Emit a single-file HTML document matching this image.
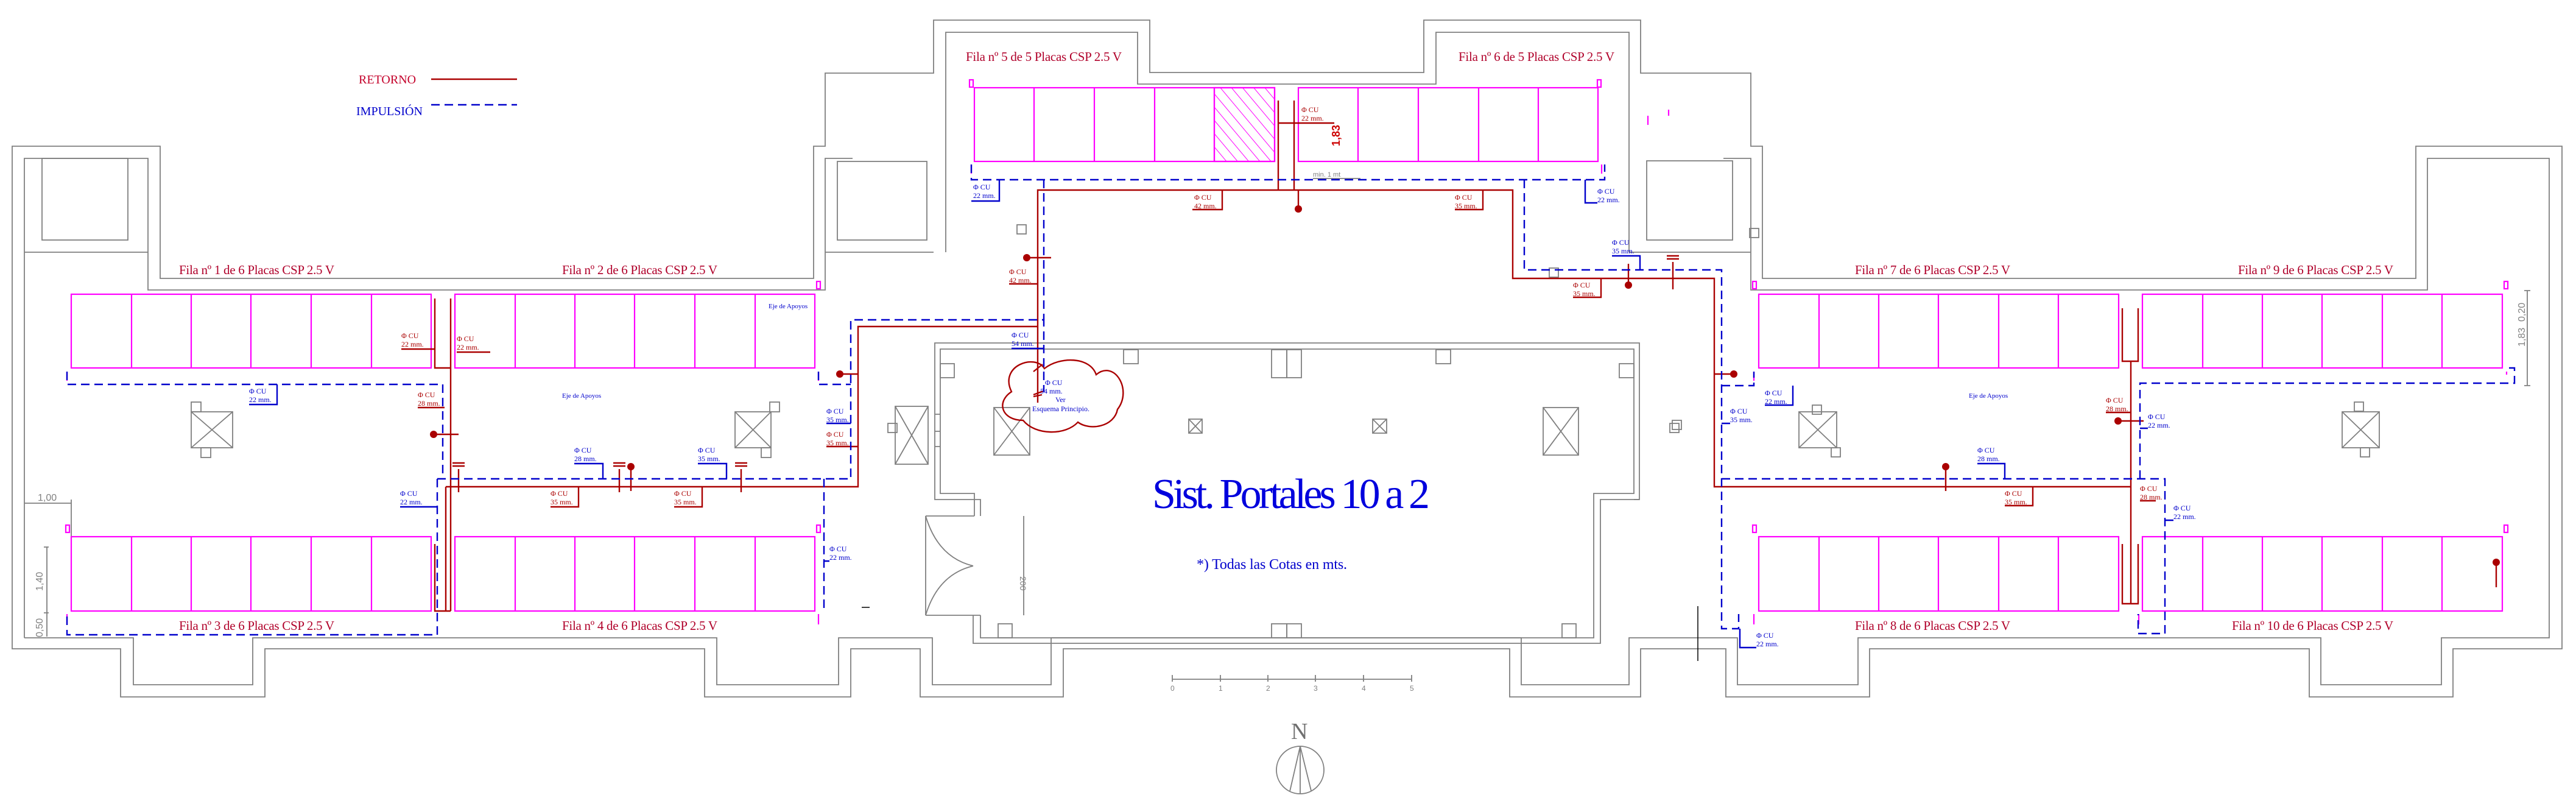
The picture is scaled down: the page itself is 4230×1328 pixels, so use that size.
<!DOCTYPE html>
<html><head><meta charset="utf-8"><style>
html,body{margin:0;padding:0;background:#fff}
svg{display:block}
</style></head><body>
<svg xmlns="http://www.w3.org/2000/svg" width="4230" height="1328" viewBox="0 0 4230 1328">
<defs>
<pattern id="hatch" patternUnits="userSpaceOnUse" width="14" height="14" patternTransform="rotate(-40)">
<line x1="0" y1="0" x2="0" y2="14" stroke="#ff00ff" stroke-width="2"/>
</pattern>
</defs>
<rect width="4230" height="1328" fill="#fff"/>

<!-- building outline -->
<g fill="none" stroke="#808080" stroke-width="1.8">
<path d="M20 1065 V240 H263 V457 H1336 V240 H1355 V120 H1533 V33 H1888 V119 H2338 V33 H2694 V120 H2875 V240 H2894 V457 H3967 V240 H4207 V1065 H4028 V1144 H3792 V1065 H3070 V1144 H2834 V1065 H2694 V1144 H2479 V1065 H1746 V1144 H1511 V1065 H1397 V1144 H1157 V1065 H435 V1144 H198 V1065 Z"/>
<path d="M40 1047 V260 H243 V476 H1355 V260 H1400"/>
<path d="M2830 260 H2875 V476 H3986 V260 H4186 V1047 H4009 V1124 H3811 V1047 H3051 V1124 H2853 V1047 H2675 V1124 H2498 V1047 H1726 V1124 H1531 V1047 H1377 V1124 H1177 V1047 H415 V1124 H219 V1047 H40"/>
<path d="M40 414 H243"/>
<rect x="69" y="260" width="141" height="134"/>
<path d="M1355 414 H1533"/>
<rect x="1375" y="265" width="147" height="129"/>
<path d="M1553 414 V53 H1868 V138 H2358 V53 H2675 V414"/>
<path d="M2675 414 H2875"/>
<rect x="2704" y="264" width="141" height="130"/>
<!-- central building -->
<path d="M1598 1010 V1056 H2628 V820 H2692 V563 H1535 V820 H1610 V847"/>
<path d="M1610 1010 V1047 H2617 V810 H2683 V573 H1544 V810 H1600 V847"/>
<path d="M1520 847 H1600 M1520 1010 H1610 M1520 847 V1010"/>
<path d="M1520 847 Q1540 915 1598 929 M1520 1010 Q1540 943 1598 929"/>
<path d="M1681 847 V1010"/>
<path d="M1535 680 H1544 M1535 708 H1544 M1535 733 H1544"/>
<path d="M2683 820 H2692"/>
<rect x="1845" y="574" width="24" height="23"/><rect x="2088" y="574" width="25" height="46"/><rect x="2113" y="574" width="24" height="46"/>
<rect x="2358" y="574" width="24" height="23"/><rect x="1544" y="597" width="23" height="23"/><rect x="2659" y="597" width="24" height="23"/>
<rect x="1639" y="1024" width="23" height="23"/><rect x="2088" y="1024" width="25" height="23"/><rect x="2113" y="1024" width="24" height="23"/><rect x="2565" y="1024" width="23" height="23"/>
<!-- fans -->
<rect x="314" y="676" width="68" height="59"/><path d="M314 676 L382 735 M382 676 L314 735"/>
<rect x="1207" y="676" width="59" height="59"/><path d="M1207 676 L1266 735 M1266 676 L1207 735"/>
<rect x="1470" y="667" width="54" height="95"/><path d="M1470 667 L1524 762 M1524 667 L1470 762"/>
<rect x="1632" y="669" width="59" height="78"/><path d="M1632 669 L1691 747 M1691 669 L1632 747"/>
<rect x="2534" y="669" width="58" height="78"/><path d="M2534 669 L2592 747 M2592 669 L2534 747"/>
<rect x="1952" y="688" width="22" height="23"/><path d="M1952 688 L1974 711 M1974 688 L1952 711"/>
<rect x="2254" y="688" width="23" height="23"/><path d="M2254 688 L2277 711 M2277 688 L2254 711"/>
<rect x="2954" y="676" width="62" height="59"/><path d="M2954 676 L3016 735 M3016 676 L2954 735"/>
<rect x="3846" y="676" width="61" height="59"/><path d="M3846 676 L3907 735 M3907 676 L3846 735"/>
<rect x="314" y="660" width="16" height="16"/><rect x="330" y="735" width="16" height="16"/>
<rect x="1264" y="660" width="16" height="16"/><rect x="1250" y="735" width="16" height="16"/>
<rect x="1458" y="695" width="15" height="15"/><rect x="1670" y="369" width="15" height="15"/>
<rect x="2742" y="695" width="15" height="15"/><rect x="2873" y="375" width="15" height="15"/>
<rect x="2544" y="440" width="15" height="15"/><rect x="2976" y="665" width="15" height="15"/>
<rect x="3007" y="735" width="15" height="15"/><rect x="3866" y="660" width="15" height="15"/><rect x="3876" y="735" width="15" height="15"/>
<rect x="2746" y="690" width="15" height="15"/>
<!-- dims -->
<path d="M40 826 H117 M117 820 V880 M77 898 V1045 M72 898 H80 M72 1006 H80 M4150 477 V633 M4145 477 H4155 M4145 633 H4155"/>
<path d="M1925 1115 H2318 M1925 1108 V1119 M2004 1108 V1119 M2082 1108 V1119 M2160 1108 V1119 M2239 1108 V1119 M2318 1108 V1119"/>
<circle cx="2135" cy="1264" r="39"/>
<path d="M2135 1225 V1303 M2135 1225 L2118 1299 M2135 1225 L2153 1298"/>
<path d="M2156 293 H2234"/>
</g>
<path d="M2788 995 V1085 M1415 997 H1428" stroke="#000" stroke-width="1.5"/>

<!-- panels -->
<g fill="none" stroke="#ff00ff" stroke-width="2.2">
<rect x="1994" y="144" width="99" height="121" fill="url(#hatch)"/>
<rect x="117" y="483" width="591" height="121"/><path d="M216 483V604M314 483V604M412 483V604M511 483V604M610 483V604"/>
<rect x="747" y="483" width="591" height="121"/><path d="M846 483V604M944 483V604M1042 483V604M1141 483V604M1240 483V604"/>
<rect x="117" y="881" width="591" height="122"/><path d="M216 881V1003M314 881V1003M412 881V1003M511 881V1003M610 881V1003"/>
<rect x="747" y="881" width="591" height="122"/><path d="M846 881V1003M944 881V1003M1042 881V1003M1141 881V1003M1240 881V1003"/>
<rect x="1600" y="144" width="493" height="121"/><path d="M1698 144V265M1797 144V265M1896 144V265M1994 144V265"/>
<rect x="2132" y="144" width="492" height="121"/><path d="M2230 144V265M2329 144V265M2428 144V265M2526 144V265"/>
<rect x="2888" y="483" width="591" height="121"/><path d="M2987 483V604M3085 483V604M3183 483V604M3282 483V604M3380 483V604"/>
<rect x="3518" y="483" width="591" height="121"/><path d="M3617 483V604M3715 483V604M3813 483V604M3912 483V604M4010 483V604"/>
<rect x="2888" y="881" width="591" height="122"/><path d="M2987 881V1003M3085 881V1003M3183 881V1003M3282 881V1003M3380 881V1003"/>
<rect x="3518" y="881" width="591" height="122"/><path d="M3617 881V1003M3715 881V1003M3813 881V1003M3912 881V1003M4010 881V1003"/>
<rect x="1592" y="131" width="6" height="12"/><rect x="2623" y="131" width="6" height="12"/>
<rect x="108" y="862" width="6" height="12"/><rect x="1341" y="462" width="6" height="12"/><rect x="1341" y="862" width="6" height="12"/>
<rect x="2878" y="462" width="6" height="12"/><rect x="2878" y="862" width="6" height="12"/>
<rect x="4112" y="462" width="6" height="12"/><rect x="4112" y="862" width="6" height="12"/>
<path d="M110 610 V625 M110 1008 V1025 M1344 610 V625 M1344 1008 V1025 M1595 270 V285 M2630 270 V285 M2880 610 V625 M2880 1008 V1025 M3512 1008 V1025 M4116 610 V615 M2740 180 V190 M2706 190 V205"/>
</g>

<!-- return (red) -->
<g fill="none" stroke="#aa0000" stroke-width="2.4">
<path d="M708 130 H849"/>
<path d="M714 490 V604 H740 M740 490 V1003 M732 799 V1003 M714 893 V1003 H740"/>
<path d="M732 799 H1409 V536 H1704 M1704 661 V312 H2484 V457 H2815 V799 H3499"/>
<path d="M2099 165 V312 M2125 165 V312 M2099 202 H2191 M2132 312 V340"/>
<path d="M3485 506 V593 H3511 V506 M3499 593 V991 M3485 893 V991 H3511 V893"/>
<path d="M712 713 H753 M753 770 V808 M743 760 H763 M743 765 H763 M1017 770 V808 M1007 760 H1027 M1007 765 H1027 M1036 766 V806 M1217 770 V808 M1207 760 H1227 M1207 765 H1227"/>
<path d="M1379 614 H1409 M1686 423 H1726 M2674 468 V433 M2747 430 V475 M2737 420 H2757 M2737 425 H2757 M2847 614 H2814 M3195 766 V806 M3478 691 H3520 M4099 923 V964"/>
<path d="M659 573 H714 M750 578 H805 M686 669 H730 M904 832 H950 V799 M1107 832 H1153 V799 M1357 733 H1409 M1958 344 H2007 V312 M2389 344 H2435 V312 M2583 488 H2629 V457 M1657 466 H1704 M3292 830 H3338 V799 M3458 677 H3499 M3514 822 H3540"/>
<path d="M1697 610 L1712 598 M1697 648 L1713 642 M1711 648 L1697 651"/>
<path d="M1661 643 C1640 600 1700 580 1715 605 C1740 585 1790 585 1800 615 C1830 590 1860 640 1835 672 C1830 700 1790 708 1770 693 C1750 715 1700 715 1680 690 C1645 690 1635 660 1661 643 Z"/>
</g>
<g fill="#aa0000">
<circle cx="712" cy="713" r="6"/><circle cx="1036" cy="766" r="6"/><circle cx="1379" cy="614" r="6"/>
<circle cx="1686" cy="423" r="6"/><circle cx="2132" cy="343" r="6"/><circle cx="2674" cy="468" r="6"/>
<circle cx="2847" cy="614" r="6"/><circle cx="3195" cy="766" r="6"/><circle cx="3478" cy="691" r="6"/><circle cx="4099" cy="923" r="6"/>
</g>

<!-- supply (blue dashed) -->
<g fill="none" stroke="#0000cc" stroke-width="2.4" stroke-dasharray="14 8">
<path d="M708 172 H849"/>
<path d="M110 610 V631 H727 V786"/>
<path d="M718 786 V1042 H110 V1008"/>
<path d="M718 786 H1397 V525 H1714 V643"/>
<path d="M1353 786 V1000 M1344 610 V631 H1397"/>
<path d="M1595 270 V295 H2635 V270 M1714 295 V525"/>
<path d="M2503 295 V443 H2827 V1032 H2855 V1008 M2827 633 H2880 V610"/>
<path d="M2827 786 H3555 V1040 H3511 V1008 M3514 786 V629 H4129 V604 H4116"/>
</g>
<g fill="none" stroke="#0000cc" stroke-width="2.4">
<path d="M409 664 H455 V631 M657 832 H718 M943 761 H990 V786 M1146 761 H1193 V786 M1357 695 H1397 M1362 921 H1353 M1595 330 H1641 V295 M2623 333 H2603 V295 M2647 420 H2693 V443 M1661 572 H1714"/>
<path d="M2898 665 H2944 V633 M2841 695 H2827 M3247 761 H3292 V786 M3527 703 H3514 M3569 854 H3555 M2884 1063 H2857 V1032"/>
</g>

<!-- text -->
<g font-family="'Liberation Serif', serif">
<text x="589" y="137" font-size="20" fill="#c4002a">RETORNO</text>
<text x="585" y="189" font-size="20" fill="#0000cc">IMPULSIÓN</text>
<g font-size="21" fill="#b0002a">
<text x="294" y="450" textLength="255">Fila nº 1 de 6 Placas CSP 2.5 V</text>
<text x="923" y="450" textLength="255">Fila nº 2 de 6 Placas CSP 2.5 V</text>
<text x="294" y="1034" textLength="255">Fila nº 3 de 6 Placas CSP 2.5 V</text>
<text x="923" y="1034" textLength="255">Fila nº 4 de 6 Placas CSP 2.5 V</text>
<text x="1586" y="100" textLength="256">Fila nº 5 de 5 Placas CSP 2.5 V</text>
<text x="2395" y="100" textLength="256">Fila nº 6 de 5 Placas CSP 2.5 V</text>
<text x="3046" y="450" textLength="255">Fila nº 7 de 6 Placas CSP 2.5 V</text>
<text x="3675" y="450" textLength="255">Fila nº 9 de 6 Placas CSP 2.5 V</text>
<text x="3046" y="1034" textLength="255">Fila nº 8 de 6 Placas CSP 2.5 V</text>
<text x="3665" y="1034" textLength="265">Fila nº 10 de 6 Placas CSP 2.5 V</text>
</g>
<text x="1892" y="834" font-size="70" fill="#0000dd" textLength="456">Sist. Portales 10 a 2</text>
<text x="1965" y="934" font-size="24" fill="#0000cc" textLength="247">*)  Todas las Cotas en mts.</text>
<g font-size="11" fill="#0000cc">
<text x="1262" y="506">Eje de Apoyos</text><text x="923" y="653">Eje de Apoyos</text><text x="3233" y="653">Eje de Apoyos</text>
</g>
<g font-size="12" fill="#aa0000">
<text x="659" y="555">Φ CU</text><text x="659" y="569">22 mm.</text>
<text x="750" y="560">Φ CU</text><text x="750" y="574">22 mm.</text>
<text x="686" y="652">Φ CU</text><text x="686" y="666">28 mm.</text>
<text x="904" y="814">Φ CU</text><text x="904" y="828">35 mm.</text>
<text x="1107" y="814">Φ CU</text><text x="1107" y="828">35 mm.</text>
<text x="1357" y="717">Φ CU</text><text x="1357" y="731">35 mm.</text>
<text x="1961" y="328">Φ CU</text><text x="1961" y="342">42 mm.</text>
<text x="2389" y="328">Φ CU</text><text x="2389" y="342">35 mm.</text>
<text x="2137" y="184">Φ CU</text><text x="2137" y="198">22 mm.</text>
<text x="2583" y="472">Φ CU</text><text x="2583" y="486">35 mm.</text>
<text x="1657" y="450">Φ CU</text><text x="1657" y="464">42 mm.</text>
<text x="3292" y="814">Φ CU</text><text x="3292" y="828">35 mm.</text>
<text x="3458" y="661">Φ CU</text><text x="3458" y="675">28 mm.</text>
<text x="3514" y="806">Φ CU</text><text x="3514" y="820">28 mm.</text>
</g>
<g font-size="12" fill="#0000cc">
<text x="409" y="646">Φ CU</text><text x="409" y="660">22 mm.</text>
<text x="657" y="814">Φ CU</text><text x="657" y="828">22 mm.</text>
<text x="943" y="743">Φ CU</text><text x="943" y="757">28 mm.</text>
<text x="1146" y="743">Φ CU</text><text x="1146" y="757">35 mm.</text>
<text x="1357" y="679">Φ CU</text><text x="1357" y="693">35 mm.</text>
<text x="1362" y="905">Φ CU</text><text x="1362" y="919">22 mm.</text>
<text x="1598" y="311">Φ CU</text><text x="1598" y="325">22 mm.</text>
<text x="2623" y="318">Φ CU</text><text x="2623" y="332">22 mm.</text>
<text x="2647" y="402">Φ CU</text><text x="2647" y="416">35 mm.</text>
<text x="1661" y="554">Φ CU</text><text x="1661" y="568">54 mm.</text>
<text x="1716" y="632">Φ CU</text><text x="1708" y="646">54 mm.</text><text x="1733" y="660">Ver</text><text x="1695" y="675">Esquema Principio.</text>
<text x="2898" y="649">Φ CU</text><text x="2898" y="663">22 mm.</text>
<text x="2841" y="679">Φ CU</text><text x="2841" y="693">35 mm.</text>
<text x="3247" y="743">Φ CU</text><text x="3247" y="757">28 mm.</text>
<text x="3527" y="688">Φ CU</text><text x="3527" y="702">22 mm.</text>
<text x="3569" y="838">Φ CU</text><text x="3569" y="852">22 mm.</text>
<text x="2884" y="1047">Φ CU</text><text x="2884" y="1061">22 mm.</text>
</g>
</g>
<g font-family="'Liberation Sans', sans-serif" fill="#808080">
<text x="62" y="822" font-size="16">1,00</text>
<text transform="translate(70 970) rotate(-90)" font-size="16">1,40</text>
<text transform="translate(70 1046) rotate(-90)" font-size="16">0,50</text>
<text transform="translate(4146 569) rotate(-90)" font-size="16">1,83</text>
<text transform="translate(4146 528) rotate(-90)" font-size="16">0,20</text>
<text transform="translate(1675 946) rotate(90)" font-size="14">200</text>
<text x="2156" y="290" font-size="11">min. 1 mt</text>
<g font-size="12"><text x="1922" y="1134">0</text><text x="2001" y="1134">1</text><text x="2079" y="1134">2</text><text x="2157" y="1134">3</text><text x="2236" y="1134">4</text><text x="2315" y="1134">5</text></g>
</g>
<text x="2120" y="1213" font-family="'Liberation Serif', serif" font-size="38" fill="#707070">N</text>
<text transform="translate(2200 240) rotate(-90)" font-family="'Liberation Sans', sans-serif" font-size="18" font-weight="bold" fill="#cc0000">1,83</text>
</svg>
</body></html>
